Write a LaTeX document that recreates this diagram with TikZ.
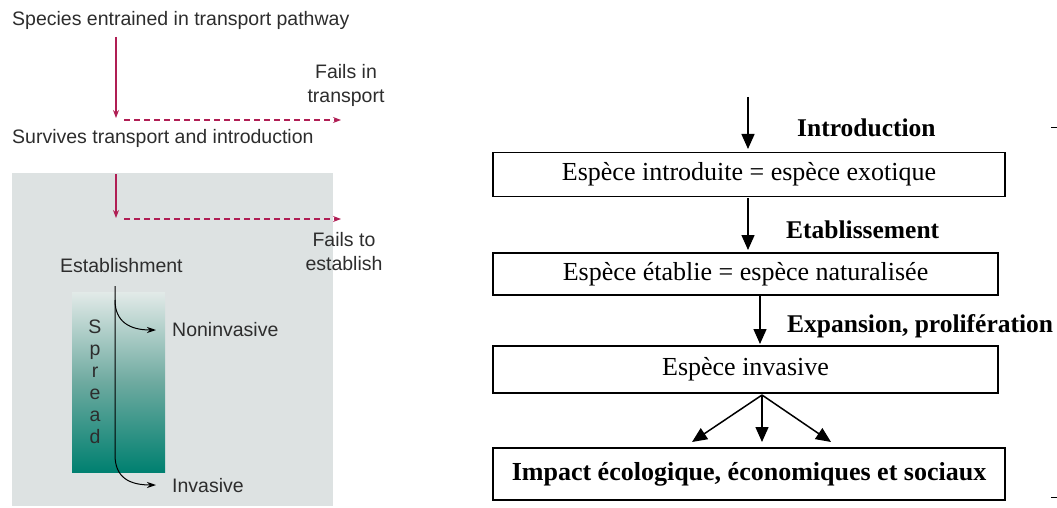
\documentclass[tikz,border=0pt]{standalone}
\usepackage{fontspec}
\setmainfont{Liberation Serif}
\newfontfamily\lsans{Liberation Sans}
\usetikzlibrary{arrows.meta}
\definecolor{redarr}{RGB}{176,30,84}
\definecolor{greybg}{RGB}{221,226,226}
\definecolor{tealtop}{RGB}{226,234,232}
\definecolor{tealbot}{RGB}{0,128,112}
\definecolor{ltext}{RGB}{45,45,45}
\tikzset{
  ltxt/.style={font=\lsans\fontsize{19.5}{24}\selectfont, text=ltext, inner sep=0pt},
  redline/.style={draw=redarr, line width=1.2pt, -{Stealth[length=8pt,width=6pt]}},
  reddash/.style={draw=redarr, line width=1.2pt, dash pattern=on 6pt off 4pt, -{Stealth[length=8pt,width=6pt]}},
  blkcurve/.style={draw=black, line width=1pt, -{Stealth[length=9pt,width=6pt]}},
  rbox/.style={draw=black, line width=1.5pt, minimum height=44pt, inner sep=0pt, font=\fontsize{26}{30}\selectfont},
  rlab/.style={font=\bfseries\fontsize{25.5}{30}\selectfont, inner sep=0pt},
  rarr/.style={draw=black, line width=1.5pt, -{Triangle[length=15pt,width=13pt]}},
}
\begin{document}
\begin{tikzpicture}[x=1pt,y=-1pt]
\useasboundingbox (0,0) rectangle (1057,508);
\fill[white] (0,0) rectangle (1057,508);
% ---------- left ----------
\fill[greybg] (12,173) rectangle (333,506);
\shade[top color=tealtop, bottom color=tealbot, middle color={rgb,255:red,110;green,170;blue,160}] (72,292) rectangle (165,472);
\node[ltxt, anchor=west] (species) at (12,20) {Species entrained in transport pathway};
\node[ltxt, anchor=west] (survives) at (12,138) {Survives transport and introduction};
\node[ltxt, align=center] (failtr) at (346,85) {Fails in\\transport};
\node[ltxt, align=center] (failest) at (344,252) {Fails to\\establish};
\node[ltxt, anchor=west] (estab) at (60,266) {Establishment};
\node[ltxt, anchor=west] (nonin) at (172,330) {Noninvasive};
\node[ltxt, anchor=west] (inv) at (172,486) {Invasive};
\node[ltxt, font=\lsans\fontsize{19.5}{22}\selectfont, align=center] (spread) at (95,382) {S\\p\\r\\e\\a\\d};
\coordinate (a1s) at (116,37);
\coordinate (a1e) at (116,118);
\coordinate (d1s) at (124,120);
\coordinate (d1e) at (341,120);
\coordinate (a2s) at (116,174);
\coordinate (a2e) at (116,218);
\coordinate (d2s) at (124,219);
\coordinate (d2e) at (341,219);
\draw[redline] (a1s) -- (a1e);
\draw[reddash] (d1s) -- (d1e);
\draw[redline] (a2s) -- (a2e);
\draw[reddash] (d2s) -- (d2e);
\coordinate (v0) at (115,286);
\coordinate (v1) at (115,300);
\coordinate (v2) at (115,455);
\coordinate (nonE) at (156,330);
\coordinate (invE) at (156,485);
\draw[blkcurve] (v0) -- (v2) .. controls (115,478) and (130,485) .. (invE);
\draw[blkcurve] (v1) .. controls (115,322) and (130,330) .. (nonE);
% ---------- right ----------
\node[rbox, minimum width=512pt] (b1) at (749,174.5) {Espèce introduite = espèce exotique};
\node[rbox, minimum width=505pt, minimum height=42pt] (b2) at (745.5,274) {Espèce établie = espèce naturalisée};
\node[rbox, minimum width=505pt, minimum height=47pt] (b3) at (745.5,369.5) {Espèce invasive};
\node[rbox, minimum width=512pt, minimum height=52pt, font=\bfseries\fontsize{26}{30}\selectfont] (b4) at (749,474) {Impact écologique, économiques et sociaux};
\node[rlab, anchor=west] (lintro) at (797,128) {Introduction};
\node[rlab, anchor=west] (lestab) at (786,230) {Etablissement};
\node[rlab, anchor=west] (lexp) at (787,326) {Expansion, prolifération};
\coordinate (t1) at (748,97);
\draw[rarr] (t1) -- (748,149);
\draw[rarr] (748,198) -- (748,250);
\draw[rarr] (760,295) -- (760,344);
\coordinate (fan) at (762,395);
\draw[rarr] (fan) -- (692,442);
\draw[rarr] (fan) -- (762,442);
\draw[rarr] (fan) -- (831,442);
\draw[line width=0.8pt] (1051,127) -- (1057,127);
\draw[line width=0.8pt] (1051,497) -- (1057,497);
\end{tikzpicture}
\end{document}
